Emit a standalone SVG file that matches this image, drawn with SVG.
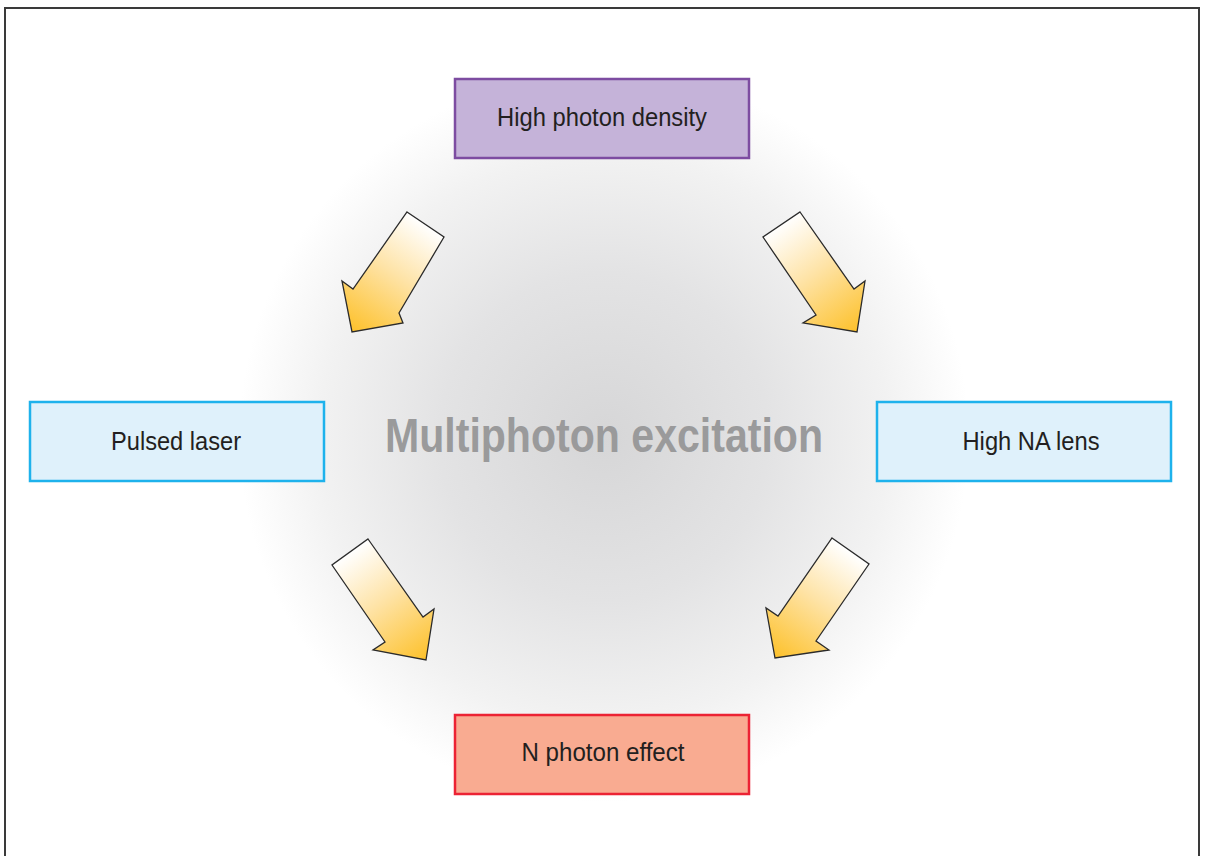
<svg xmlns="http://www.w3.org/2000/svg" xmlns:xlink="http://www.w3.org/1999/xlink" width="1206" height="856" viewBox="0 0 1206 856">
  <style>
    .box { stroke-width: 2.5; }
    .label { font-family: "Liberation Sans", Arial, sans-serif; font-size: 25.5px; fill: #231f20; text-anchor: middle; }
    .title { font-family: "Liberation Sans", Arial, sans-serif; font-size: 48px; font-weight: bold; fill: #9a9a9b; text-anchor: middle; }
    .arrow { stroke: #2b2b2b; stroke-width: 1.3; stroke-linejoin: miter; }
  </style>
  <defs>
    <radialGradient id="halo" cx="604" cy="437" r="365" gradientUnits="userSpaceOnUse">
      <stop offset="0" stop-color="#d6d6d7"/>
      <stop offset="0.45" stop-color="#e3e3e4"/>
      <stop offset="0.78" stop-color="#f2f2f2"/>
      <stop offset="1" stop-color="#ffffff"/>
    </radialGradient>
    <linearGradient id="arrowFill" gradientUnits="userSpaceOnUse">
      <stop offset="0" stop-color="#ffffff"/>
      <stop offset="0.45" stop-color="#fee3a6"/>
      <stop offset="1" stop-color="#fdc12b"/>
    </linearGradient>
    <linearGradient id="g1" xlink:href="#arrowFill" x1="425" y1="224" x2="352" y2="332"/>
    <linearGradient id="g2" xlink:href="#arrowFill" x1="781" y1="224" x2="857" y2="332"/>
    <linearGradient id="g3" xlink:href="#arrowFill" x1="350" y1="552" x2="426" y2="660"/>
    <linearGradient id="g4" xlink:href="#arrowFill" x1="850" y1="551" x2="775" y2="658"/>
  </defs>

  <!-- page -->
  <rect x="0" y="0" width="1206" height="856" fill="#ffffff"/>
  <circle cx="604" cy="437" r="365" fill="url(#halo)"/>
  <rect x="5" y="8" width="1194" height="860" fill="none" stroke="#3a3a3a" stroke-width="2"/>

  <!-- central caption -->
  <text class="title" x="604" y="452" textLength="438" lengthAdjust="spacingAndGlyphs">Multiphoton excitation</text>

  <!-- connectors -->
  <g id="connectors">
    <polygon class="arrow" fill="url(#g1)" points="407,212 444,237 399,313 403,323 352,332 342,281 353,289"/>
    <polygon class="arrow" fill="url(#g2)" points="800,212 854,289 865,281 857,332 803,323 816,315 763,237"/>
    <polygon class="arrow" fill="url(#g3)" points="368,539 423,617 434,609 426,660 373,650 385,642 332,565"/>
    <polygon class="arrow" fill="url(#g4)" points="832,538 869,564 816,641 829,650 775,658 766,608 778,616"/>
  </g>

  <!-- nodes -->
  <g id="high-photon-density">
    <rect class="box" x="455" y="79" width="294" height="79" fill="#c5b3d9" stroke="#7d4ca1"/>
    <text class="label" x="602" y="126" textLength="210" lengthAdjust="spacingAndGlyphs">High photon density</text>
  </g>
  <g id="pulsed-laser">
    <rect class="box" x="30" y="402" width="294" height="79" fill="#dff1fb" stroke="#1eb2ec"/>
    <text class="label" x="176" y="450" textLength="130" lengthAdjust="spacingAndGlyphs">Pulsed laser</text>
  </g>
  <g id="high-na-lens">
    <rect class="box" x="877" y="402" width="294" height="79" fill="#dff1fb" stroke="#1eb2ec"/>
    <text class="label" x="1031" y="450" textLength="137" lengthAdjust="spacingAndGlyphs">High NA lens</text>
  </g>
  <g id="n-photon-effect">
    <rect class="box" x="455" y="715" width="294" height="79" fill="#f9ab91" stroke="#ec2334"/>
    <text class="label" x="603" y="761" textLength="163" lengthAdjust="spacingAndGlyphs">N photon effect</text>
  </g>
</svg>
